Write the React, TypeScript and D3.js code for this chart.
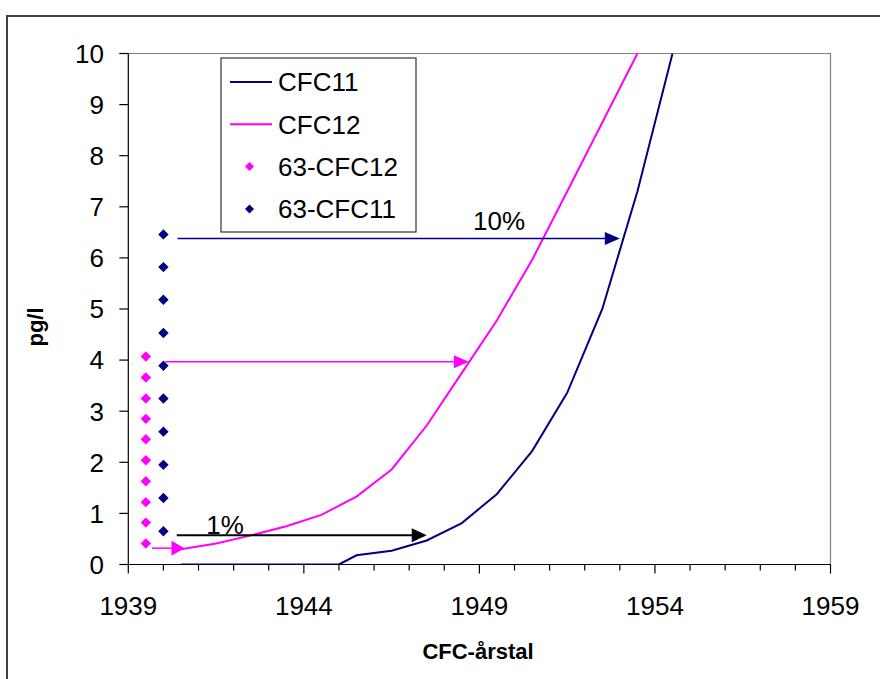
import React from "react";
import * as d3 from "d3";

// ---- data ----
const cfc11Years = [1940.5, 1941.5, 1942.5, 1943.5, 1944.5, 1945.0, 1945.5, 1946.5, 1947.5, 1948.5, 1949.5, 1950.5, 1951.5, 1952.5, 1953.5, 1954.5];
const cfc11Values = [0, 0, 0, 0, 0, 0, 0.18, 0.27, 0.47, 0.81, 1.38, 2.22, 3.36, 5.0, 7.3, 10.0];
const cfc12Years = [1940.5, 1941.5, 1942.5, 1943.5, 1944.5, 1945.5, 1946.5, 1947.5, 1948.5, 1949.5, 1950.5, 1951.5, 1952.5, 1953.5];
const cfc12Values = [0.3, 0.41, 0.57, 0.75, 0.97, 1.33, 1.86, 2.72, 3.75, 4.78, 5.96, 7.3, 8.65, 10.0];
const s63Cfc12Year = 1939.5;
const s63Cfc12Values = [0.41, 0.82, 1.22, 1.63, 2.04, 2.45, 2.85, 3.25, 3.66, 4.07];
const s63Cfc11Year = 1940;
const s63Cfc11Values = [0.65, 1.3, 1.95, 2.6, 3.25, 3.89, 4.53, 5.18, 5.82, 6.46];
const xTickLabels = [1939, 1944, 1949, 1954, 1959];
const yTickLabels = [0, 1, 2, 3, 4, 5, 6, 7, 8, 9, 10];
// annotation arrows (in data units): [fromYear, toYear, value]
const arrowNavy = [1940.4, 1953.0, 6.38];
const arrowPink = [1940.05, 1948.7, 3.97];
const arrowBlack = [1940.38, 1947.5, 0.57];
const arrowPinkSmall = [1939.67, 1940.6, 0.32];
const legendLabels = ["CFC11", "CFC12", "63-CFC12", "63-CFC11"];

const NAVY = "#000080";
const PINK = "#FF00FF";
const FONT = "'Liberation Sans', Arial, sans-serif";

export default function App() {
  const W = 880, H = 679;
  const x = d3.scaleLinear().domain([1939, 1959]).range([128.3, 830.5]);
  const y = d3.scaleLinear().domain([0, 10]).range([564.5, 53.5]);

  const line = d3.line<[number, number]>().x(d => x(d[0])).y(d => y(d[1]));
  const cfc11 = line(cfc11Years.map((yr, i) => [yr, cfc11Values[i]] as [number, number]))!;
  const cfc12 = line(cfc12Years.map((yr, i) => [yr, cfc12Values[i]] as [number, number]))!;

  const diamond = (cx: number, cy: number, r: number) =>
    `M${cx},${cy - r}L${cx + r},${cy}L${cx},${cy + r}L${cx - r},${cy}Z`;

  const arrow = (a: number[], color: string, sw: number, hl: number, hh: number, key: string) => {
    const x1 = x(a[0]), x2 = x(a[1]), yy = y(a[2]);
    return (
      <g key={key}>
        <line x1={x1} y1={yy} x2={x2 - hl + 1} y2={yy} stroke={color} strokeWidth={sw} />
        <path d={`M${x2},${yy}L${x2 - hl},${yy - hh / 2}L${x2 - hl},${yy + hh / 2}Z`} fill={color} />
      </g>
    );
  };

  const allYears = d3.range(1939, 1960);
  const legX = 221, legY = 58, legW = 195, legH = 174;
  const rowY = (i: number) => 82 + i * 42.3;

  return (
    <svg width={W} height={H} style={{ position: "absolute", left: 0, top: 0, background: "#fff" }} fontFamily={FONT}>
      <defs>
        <clipPath id="plot">
          <rect x={x(1939)} y={y(10)} width={x(1959) - x(1939)} height={y(0) - y(10)} />
        </clipPath>
      </defs>
      <rect x={0} y={0} width={W} height={H} fill="#fff" />
      {/* outer chart border */}
      <rect x={7} y={16} width={W + 20} height={H + 20} fill="none" stroke="#404040" strokeWidth={2} />
      {/* plot frame top/right */}
      <path d={`M${x(1939)},${y(10)}H${x(1959)}V${y(0)}`} fill="none" stroke="#808080" strokeWidth={1.2} />

      {/* y axis */}
      <line x1={x(1939)} y1={y(0)} x2={x(1939)} y2={y(10)} stroke="#000" strokeWidth={1.2} />
      {yTickLabels.map(v => (
        <g key={"yt" + v}>
          <line x1={x(1939) - 9} x2={x(1939)} y1={y(v)} y2={y(v)} stroke="#000" strokeWidth={1.2} />
          <text x={104} y={y(v)} dy="0.36em" textAnchor="end" fontSize={26}>{v}</text>
        </g>
      ))}
      {/* x axis */}
      <line x1={x(1939)} y1={y(0)} x2={x(1959)} y2={y(0)} stroke="#000" strokeWidth={1.2} />
      {allYears.map(yr => (
        <line key={"xt" + yr} x1={x(yr)} x2={x(yr)} y1={y(0)} y2={y(0) + ((yr - 1939) % 5 === 0 ? 9 : 6)} stroke="#000" strokeWidth={1.2} />
      ))}
      {xTickLabels.map(yr => (
        <text key={"xl" + yr} x={x(yr)} y={606} dy="0.36em" textAnchor="middle" fontSize={26}>{yr}</text>
      ))}
      <text x={478} y={651} dy="0.36em" textAnchor="middle" fontSize={22} fontWeight="bold">CFC-årstal</text>
      <text transform={`translate(35,327) rotate(-90)`} dy="0.36em" textAnchor="middle" fontSize={22} fontWeight="bold">pg/l</text>

      {/* curves */}
      <g clipPath="url(#plot)">
        <path d={cfc12} fill="none" stroke={PINK} strokeWidth={2} />
        <path d={cfc11} fill="none" stroke={NAVY} strokeWidth={2} />
      </g>

      {/* sample points */}
      {s63Cfc12Values.map((v, i) => (
        <path key={"p" + i} d={diamond(x(s63Cfc12Year), y(v), 5.2)} fill={PINK} />
      ))}
      {s63Cfc11Values.map((v, i) => (
        <path key={"n" + i} d={diamond(x(s63Cfc11Year), y(v), 5.2)} fill={NAVY} />
      ))}

      {/* arrows */}
      {arrow(arrowNavy, NAVY, 1.5, 15, 13, "an")}
      {arrow(arrowPink, PINK, 1.5, 15, 13, "ap")}
      {arrow(arrowBlack, "#000", 2, 15, 14, "ab")}
      {arrow(arrowPinkSmall, PINK, 1.5, 13, 15, "aps")}
      <text x={499} y={230} fontSize={26} textAnchor="middle">10%</text>
      <text x={225} y={534} fontSize={26} textAnchor="middle">1%</text>

      {/* legend */}
      <rect x={legX} y={legY} width={legW} height={legH} fill="#fff" stroke="#333" strokeWidth={1.2} />
      {legendLabels.map((lab, i) => (
        <g key={"lg" + i}>
          {i < 2 ? (
            <line x1={230} x2={272} y1={rowY(i)} y2={rowY(i)} stroke={i === 0 ? NAVY : PINK} strokeWidth={2} />
          ) : (
            <path d={diamond(249.5, rowY(i), 4.5)} fill={i === 2 ? PINK : NAVY} />
          )}
          <text x={278} y={rowY(i)} dy="0.36em" fontSize={26}>{lab}</text>
        </g>
      ))}
    </svg>
  );
}
